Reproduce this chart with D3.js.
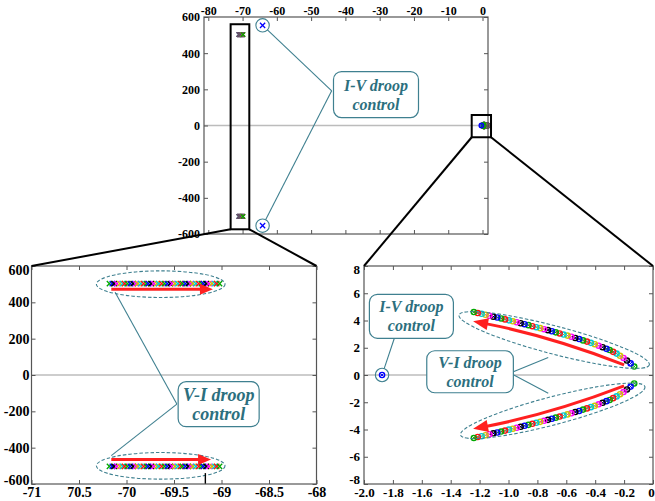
<!DOCTYPE html>
<html><head><meta charset="utf-8">
<script src="https://cdn.jsdelivr.net/npm/d3@7"></script>
<style>body{margin:0;background:#fff}svg{display:block}</style>
</head><body><svg id="fig" width="655" height="501"></svg>
<script>
// ---- tick values and labels ----
const mainXTicks = [-80, -70, -60, -50, -40, -30, -20, -10, 0];
const mainYTicks = [-600, -400, -200, 0, 200, 400, 600];
const hfXTicks = [-71, -70.5, -70, -69.5, -69, -68.5, -68];
const hfXLabels = ["-71", "70.5", "-70", "-69.5", "-69", "-68.5", "-68"];
const hfYTicks = [-600, -400, -200, 0, 200, 400, 600];
const lfXTicks = [-2, -1.8, -1.6, -1.4, -1.2, -1, -0.8, -0.6, -0.4, -0.2, 0];
const lfXLabels = ["-2.0", "-1.8", "-1.6", "-1.4", "-1.2", "-1.0", "-0.8", "-0.6", "-0.4", "-0.2", "0"];
const lfYTicks = [-8, -6, -4, -2, 0, 2, 4, 6, 8];

// ---- eigenvalues ----
// V-I droop, low-frequency mode (upper half-plane), in sweep order
const viLowRe = [-0.130, -0.155, -0.180, -0.204, -0.228, -0.252, -0.276, -0.300, -0.322, -0.349,
  -0.376, -0.403, -0.430, -0.457, -0.484, -0.511, -0.538, -0.565, -0.592, -0.619,
  -0.646, -0.673, -0.700, -0.727, -0.754, -0.781, -0.808, -0.835, -0.862, -0.889,
  -0.916, -0.943, -0.970, -0.997, -1.024, -1.051, -1.078, -1.105, -1.132, -1.159,
  -1.186, -1.213, -1.240];
const viLowIm = [0.62, 0.85, 1.06, 1.25, 1.41, 1.57, 1.70, 1.83, 1.92, 2.04,
  2.15, 2.26, 2.36, 2.45, 2.54, 2.64, 2.72, 2.81, 2.89, 2.97,
  3.05, 3.13, 3.21, 3.29, 3.36, 3.44, 3.51, 3.58, 3.66, 3.73,
  3.80, 3.87, 3.94, 4.01, 4.08, 4.15, 4.22, 4.28, 4.35, 4.42,
  4.49, 4.55, 4.62];
// V-I droop, high-frequency mode (upper half-plane), in sweep order
const viHighRe = [-70.18, -70.15, -70.13, -70.10, -70.07, -70.04, -70.02, -69.99, -69.96, -69.93,
  -69.90, -69.88, -69.85, -69.82, -69.79, -69.77, -69.74, -69.71, -69.68, -69.66,
  -69.63, -69.60, -69.57, -69.54, -69.52, -69.49, -69.46, -69.43, -69.41, -69.38,
  -69.35, -69.32, -69.30, -69.27, -69.24, -69.21, -69.19, -69.16, -69.13, -69.10,
  -69.07, -69.05, -69.02];
const viHighIm = 503;
// I-V droop eigenvalues (upper half-plane / real axis)
const ivRe = [-63.5, -1.875];
const ivIm = [554, 0];

// colour cycle used for successive sweep steps
const sweepColors = ["#00a800", "#0000ff", "#000000", "#ff00ff", "#cfc400", "#00c8d6", "#ff1010"];

const SERIF = "Liberation Serif";
const NOTE_COLOR = "#2c6f7e";
const NOTE_STROKE = "#3f8090";
const BOX_COLOR = "#555";

const svg = d3.select("#fig");
svg.append("rect").attr("width", 655).attr("height", 501).attr("fill", "#fff");

function makePanel(o) {
  const x = d3.scaleLinear().domain(o.xDomain).range([o.left, o.right]);
  const y = d3.scaleLinear().domain(o.yDomain).range([o.bottom, o.top]);
  // scale used only to place the x tick labels (defaults to the data scale)
  const xl = o.xLabelDomain ? d3.scaleLinear().domain(o.xLabelDomain).range([o.left, o.right]) : x;
  const g = svg.append("g");
  const under = g.append("g");
  const marks = g.append("g");
  const notes = g.append("g");
  const frame = g.append("g");

  // zero line
  under.append("line")
    .attr("x1", o.left).attr("x2", o.right)
    .attr("y1", y(0)).attr("y2", y(0))
    .attr("stroke", "#bcbcbc").attr("stroke-width", 1.3);

  const fmtX = (d, i) => o.xLabels ? o.xLabels[i] : String(d);
  const blank = () => "";

  const style = sel => {
    sel.select(".domain").remove();
    sel.selectAll(".tick line").attr("stroke", BOX_COLOR).attr("stroke-width", 1);
    sel.selectAll(".tick text")
      .attr("fill", "#000")
      .style("font-family", SERIF)
      .style("font-weight", "bold")
      .style("font-size", o.fontSize + "px");
  };

  const xLab = o.xAxisTop ? d3.axisTop(xl) : d3.axisBottom(xl);
  const xOpp = o.xAxisTop ? d3.axisBottom(xl) : d3.axisTop(xl);
  const xa = frame.append("g")
    .attr("transform", `translate(0,${o.xAxisTop ? o.top : o.bottom})`)
    .call(xLab.tickValues(o.xTicks).tickFormat(fmtX).tickSizeInner(-4).tickSizeOuter(0).tickPadding(o.xPad))
    .call(style);
  frame.append("g")
    .attr("transform", `translate(0,${o.xAxisTop ? o.bottom : o.top})`)
    .call(xOpp.tickValues(o.xTicks).tickFormat(blank).tickSizeInner(-4).tickSizeOuter(0))
    .call(style);
  const ya = frame.append("g")
    .attr("transform", `translate(${o.left},0)`)
    .call(d3.axisLeft(y).tickValues(o.yTicks).tickFormat(d => String(d)).tickSizeInner(-4).tickSizeOuter(0).tickPadding(o.yPad))
    .call(style);
  frame.append("g")
    .attr("transform", `translate(${o.right},0)`)
    .call(d3.axisRight(y).tickValues(o.yTicks).tickFormat(blank).tickSizeInner(-4).tickSizeOuter(0))
    .call(style);

  // nudge the outermost labels inward where they would crowd the corners
  if (o.yEndNudge) {
    const t = ya.selectAll(".tick text").nodes();
    d3.select(t[0]).attr("y", -o.yEndNudge[0]);
    d3.select(t[t.length - 1]).attr("y", o.yEndNudge[1]);
  }
  if (o.xLastNudge) {
    const t = xa.selectAll(".tick text").nodes();
    d3.select(t[t.length - 1]).attr("x", -o.xLastNudge);
  }

  frame.append("rect")
    .attr("x", o.left).attr("y", o.top)
    .attr("width", o.right - o.left).attr("height", o.bottom - o.top)
    .attr("fill", "none").attr("stroke", BOX_COLOR).attr("stroke-width", 1.2);

  return { x, y, marks, notes };
}

// ---- marker glyphs ----
function cross(g, cx, cy, s, color, w) {
  g.append("path")
    .attr("d", `M${cx - s},${cy - s}L${cx + s},${cy + s}M${cx - s},${cy + s}L${cx + s},${cy - s}`)
    .attr("stroke", color).attr("stroke-width", w).attr("fill", "none");
}
function ring(g, cx, cy, r, color) {
  g.append("circle").attr("cx", cx).attr("cy", cy).attr("r", r)
    .attr("fill", "none").attr("stroke", color).attr("stroke-width", 1.4);
  cross(g, cx, cy, r * 0.55, color, 1);
}

function drawEigen(p, lowR, highS) {
  // high-frequency V-I pair
  viHighRe.forEach((re, i) => {
    const c = sweepColors[i % sweepColors.length];
    cross(p.marks, p.x(re), p.y(viHighIm), highS, c, 1.3);
    cross(p.marks, p.x(re), p.y(-viHighIm), highS, c, 1.3);
  });
  // low-frequency V-I pair
  viLowRe.forEach((re, i) => {
    const c = sweepColors[i % sweepColors.length];
    ring(p.marks, p.x(re), p.y(viLowIm[i]), lowR, c);
    ring(p.marks, p.x(re), p.y(-viLowIm[i]), lowR, c);
  });
  // I-V droop
  ivRe.forEach((re, i) => {
    if (ivIm[i] === 0) {
      ring(p.marks, p.x(re), p.y(0), lowR, "#0000ff");
    } else {
      cross(p.marks, p.x(re), p.y(ivIm[i]), 2.6, "#0000ff", 1.3);
      cross(p.marks, p.x(re), p.y(-ivIm[i]), 2.6, "#0000ff", 1.3);
    }
  });
}

// ---- annotation helpers ----
function noteBox(g, cx, cy, w, h, lines, fs, gap) {
  g.append("rect")
    .attr("x", cx - w / 2).attr("y", cy - h / 2).attr("width", w).attr("height", h)
    .attr("rx", 8).attr("ry", 8)
    .attr("fill", "#fff").attr("stroke", NOTE_STROKE).attr("stroke-width", 1.2);
  lines.forEach((t, i) => {
    g.append("text")
      .attr("x", cx).attr("y", cy + (i - (lines.length - 1) / 2) * gap)
      .attr("dy", "0.35em").attr("text-anchor", "middle")
      .attr("fill", NOTE_COLOR)
      .style("font-family", SERIF)
      .style("font-weight", "bold").style("font-style", "italic")
      .style("font-size", fs + "px")
      .text(t);
  });
}
function leader(g, x1, y1, x2, y2) {
  g.append("line").attr("x1", x1).attr("y1", y1).attr("x2", x2).attr("y2", y2)
    .attr("stroke", NOTE_STROKE).attr("stroke-width", 1.1);
}
function halo(g, cx, cy, r) {
  g.append("circle").attr("cx", cx).attr("cy", cy).attr("r", r)
    .attr("fill", "none").attr("stroke", NOTE_STROKE).attr("stroke-width", 1.1);
}
function leaderToHalo(g, ax, ay, cx, cy, r) {
  const dx = ax - cx, dy = ay - cy, L = Math.hypot(dx, dy);
  leader(g, ax, ay, cx + dx / L * r, cy + dy / L * r);
}
function dashedEllipse(g, cx, cy, rx, ry, angle) {
  g.append("ellipse")
    .attr("cx", 0).attr("cy", 0).attr("rx", rx).attr("ry", ry)
    .attr("transform", `translate(${cx},${cy}) rotate(${angle})`)
    .attr("fill", "none").attr("stroke", NOTE_STROKE)
    .attr("stroke-width", 1.1).attr("stroke-dasharray", "3.5,2");
}
function arrow(g, p0, p1, bend, hl, hw, w) {
  const mx = (p0[0] + p1[0]) / 2, my = (p0[1] + p1[1]) / 2;
  const dx = p1[0] - p0[0], dy = p1[1] - p0[1], L = Math.hypot(dx, dy);
  const c = [mx - dy / L * bend, my + dx / L * bend];
  const tx = p1[0] - c[0], ty = p1[1] - c[1], tl = Math.hypot(tx, ty);
  const ux = tx / tl, uy = ty / tl;
  const b = [p1[0] - ux * hl, p1[1] - uy * hl];
  g.append("path")
    .attr("d", `M${p0[0]},${p0[1]}Q${c[0]},${c[1]} ${b[0] + ux},${b[1] + uy}`)
    .attr("fill", "none").attr("stroke", "#ff2020").attr("stroke-width", w);
  g.append("path")
    .attr("d", `M${p1[0]},${p1[1]}L${b[0] - uy * hw},${b[1] + ux * hw}L${b[0] + uy * hw},${b[1] - ux * hw}Z`)
    .attr("fill", "#ff2020");
}

// ================= overall map =================
const main = makePanel({
  left: 204, right: 488, top: 17, bottom: 234,
  xDomain: [-80, 0], yDomain: [-600, 600],
  xLabelDomain: [-81.25, 1.6],
  xTicks: mainXTicks, yTicks: mainYTicks,
  xAxisTop: true, fontSize: 12, xPad: 2, yPad: 4
});
drawEigen(main, 2.2, 2.2);
{
  const g = main.notes, x = main.x, y = main.y;
  const hx = x(ivRe[0]);
  halo(g, hx, y(ivIm[0]), 6.7);
  halo(g, hx, y(-ivIm[0]), 6.7);
  const ax = x(-44.03), ay = y(192);
  leaderToHalo(g, ax, ay, hx, y(ivIm[0]), 6.7);
  leaderToHalo(g, ax, ay, hx, y(-ivIm[0]), 6.7);
  noteBox(g, x(-31.55), y(171), 85, 46, ["I-V droop", "control"], 16, 19);
}

// ================= high-frequency detail =================
const hf = makePanel({
  left: 31.5, right: 316.5, top: 266, bottom: 484,
  xDomain: [-71, -68], yDomain: [-600, 600],
  xTicks: hfXTicks, xLabels: hfXLabels, yTicks: hfYTicks,
  xAxisTop: false, fontSize: 14, xPad: 3, yPad: 2, yEndNudge: [4, 4]
});
drawEigen(hf, 2.5, 2.6);
{
  const g = hf.notes, x = hf.x, y = hf.y;
  dashedEllipse(g, x(-69.64), y(500), 64.3, 13.3, 0);
  dashedEllipse(g, x(-69.64), y(-500), 64.3, 13.3, 0);
  arrow(g, [x(-70.16), y(472)], [x(-69.09), y(472)], 0, 13, 5.5, 3.2);
  arrow(g, [x(-70.16), y(-465)], [x(-69.11), y(-465)], 0, 13, 5.5, 3.2);
  const ax = x(-69.47), ay = y(-160);
  leader(g, ax, ay, x(-70.12), y(455));
  leader(g, ax, ay, x(-70.16), y(-444));
  noteBox(g, x(-69.03), y(-160.7), 81, 45, ["V-I droop", "control"], 18, 19);
  g.append("line")
    .attr("x1", x(-69.17)).attr("x2", x(-69.17))
    .attr("y1", y(-540)).attr("y2", y(-600))
    .attr("stroke", "#000").attr("stroke-width", 1.4);
}

// ================= low-frequency detail =================
const lf = makePanel({
  left: 364, right: 653, top: 266, bottom: 484,
  xDomain: [-2, 0], yDomain: [-8, 8],
  xTicks: lfXTicks, xLabels: lfXLabels, yTicks: lfYTicks,
  xAxisTop: false, fontSize: 13, xPad: 4, yPad: 4, yEndNudge: [5, 3], xLastNudge: 2
});
drawEigen(lf, 2.6, 2.6);
{
  const g = lf.notes, x = lf.x, y = lf.y;
  dashedEllipse(g, x(-0.684), y(2.57), 98.4, 14, 14.7);
  dashedEllipse(g, x(-0.694), y(-2.63), 95.3, 14, -14.7);
  arrow(g, [x(-0.2), y(0.75)], [x(-1.245), y(3.95)], 7, 15, 6, 3);
  arrow(g, [x(-0.2), y(-0.8)], [x(-1.245), y(-3.95)], -7, 15, 6, 3);
  halo(g, x(ivRe[1]), y(ivIm[1]), 6.7);
  leaderToHalo(g, x(-1.79), y(2.7), x(ivRe[1]), y(ivIm[1]), 6.7);
  noteBox(g, x(-1.672), y(4.31), 84, 44, ["I-V droop", "control"], 16, 19);
  const ax = x(-1.266) + 43.3, ay = y(0.24);
  leader(g, ax, ay, x(-0.725), y(1.29));
  leader(g, ax, ay + 3, x(-0.725), y(-1.34));
  noteBox(g, x(-1.266), y(0.24), 86.6, 42, ["V-I droop", "control"], 16, 19);
}

// ================= zoom windows and connectors =================
{
  const x = main.x, y = main.y;
  const win = (x0, x1, y0, y1) => {
    svg.append("rect")
      .attr("x", x(x0)).attr("y", y(y1))
      .attr("width", x(x1) - x(x0)).attr("height", y(y0) - y(y1))
      .attr("fill", "none").attr("stroke", "#000").attr("stroke-width", 2);
    return { l: x(x0), r: x(x1), b: y(y0) };
  };
  const w1 = win(-72.5, -67.24, -574, 560);
  const w2 = win(-4.59, 0.85, -65, 58);
  const link = (x1, y1, x2, y2) => svg.append("line")
    .attr("x1", x1).attr("y1", y1).attr("x2", x2).attr("y2", y2)
    .attr("stroke", "#000").attr("stroke-width", 2);
  link(w1.l, w1.b, 31.5, 266);
  link(w1.r, w1.b, 316.5, 266);
  link(w2.l, w2.b, 364, 266);
  link(w2.r, w2.b, 653, 266);
}
</script>
</body></html>
